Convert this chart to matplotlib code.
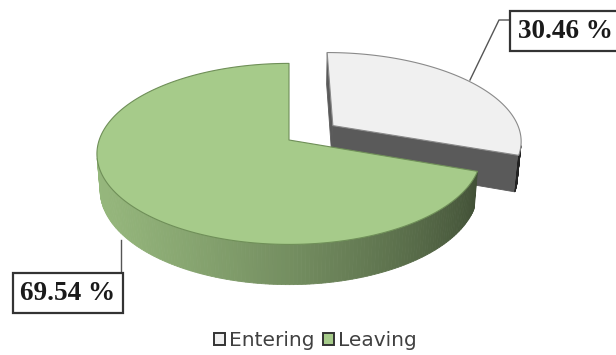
import numpy as np
import matplotlib
matplotlib.use("Agg")
import matplotlib.pyplot as plt
from matplotlib.patches import Polygon, Patch

# ---- data -------------------------------------------------------------
categories = ["Entering", "Leaving"]
shares = [30.46, 69.54]
value_labels = ["30.46 %", "69.54 %"]

# ---- styling ------------------------------------------------------------
top_colors = ["#f0f0f0", "#a6cb8a"]
wall_colors = ["#5a5a5a", "#a6cb8a"]
edge_colors = ["#8a8a8a", "#6f8f58"]
explode = [0.29, 0.0]

# simple perspective camera for the 3-D pie
PHI = np.radians(27.0)     # elevation of the camera
DIST = 5.8                 # camera distance (in pie radii)
SCALE = 1129.0             # pixels per projected unit
SCALE_X = 0.975            # horizontal squeeze
CX, CY = 289.0, 140.0      # pixel position of the pie centre
THICK = 0.21               # pie thickness (in radii)
CAM = np.array([0.0, -DIST * np.cos(PHI), DIST * np.sin(PHI)])


def project(x, y, z):
    c, s = np.cos(PHI), np.sin(PHI)
    vy = np.asarray(y) + DIST * c
    vz = np.asarray(z) - DIST * s
    depth = vy * c - vz * s
    up = vy * s + vz * c
    return CX + SCALE * SCALE_X * np.asarray(x) / depth, CY - SCALE * up / depth


def shade(hex_color, factor):
    rgb = np.array(matplotlib.colors.to_rgb(hex_color))
    return tuple(np.clip(rgb * factor, 0, 1))


fig = plt.figure(figsize=(6.16, 3.55), dpi=100)
ax = fig.add_axes([0, 0, 1, 1])
ax.set_xlim(0, 616)
ax.set_ylim(355, 0)
ax.axis("off")

# slice angles: start at 12 o'clock, run clockwise
bounds = []
start = 90.0
for v in shares:
    end = start - v * 3.6
    bounds.append((start, end))
    start = end

light = np.array([-1.0, -0.3])
light /= np.linalg.norm(light)

# draw the exploded slice first (it sits behind), then the rest
order = sorted(range(len(shares)), key=lambda i: -explode[i])
for i in order:
    a0, a1 = bounds[i]
    mid = np.radians((a0 + a1) / 2)
    ox, oy = explode[i] * np.cos(mid), explode[i] * np.sin(mid)
    th = np.radians(np.linspace(a0, a1, 240))

    faces = []
    # outer curved wall, split into thin strips
    for t0, t1 in zip(th[:-1], th[1:]):
        tm = (t0 + t1) / 2
        n = np.array([np.cos(tm), np.sin(tm), 0.0])
        p = np.array([ox + np.cos(tm), oy + np.sin(tm), -THICK / 2])
        if np.dot(n, CAM - p) <= 0:
            continue
        xs = ox + np.array([np.cos(t0), np.cos(t1), np.cos(t1), np.cos(t0)])
        ys = oy + np.array([np.sin(t0), np.sin(t1), np.sin(t1), np.sin(t0)])
        zs = np.array([0, 0, -THICK, -THICK])
        dot = np.dot(n[:2], light)
        f = 0.62 + 0.28 * dot
        col = shade(wall_colors[i], f)
        faces.append((np.linalg.norm(CAM - p), xs, ys, zs, col))

    # radial cut faces
    for ang, sign in ((th[0], 1.0), (th[-1], -1.0)):
        n = np.array([-np.sin(ang), np.cos(ang), 0.0]) * sign
        rx, ry = np.cos(ang), np.sin(ang)
        p = np.array([ox + rx / 2, oy + ry / 2, -THICK / 2])
        if np.dot(n, CAM - p) <= 0:
            continue
        xs = np.array([ox, ox + rx, ox + rx, ox])
        ys = np.array([oy, oy + ry, oy + ry, oy])
        zs = np.array([0, 0, -THICK, -THICK])
        if i == 0:
            col = shade(wall_colors[i], 1.0)
        else:
            col = shade(wall_colors[i], 0.55)
        faces.append((np.linalg.norm(CAM - p), xs, ys, zs, col))

    faces.sort(key=lambda f: -f[0])
    for _, xs, ys, zs, col in faces:
        px, py = project(xs, ys, zs)
        ax.add_patch(Polygon(np.column_stack([px, py]), closed=True,
                             facecolor=col, edgecolor=col, lw=0.6))

    # top face
    xs = np.concatenate([[ox], ox + np.cos(th)])
    ys = np.concatenate([[oy], oy + np.sin(th)])
    px, py = project(xs, ys, np.zeros_like(xs))
    ax.add_patch(Polygon(np.column_stack([px, py]), closed=True,
                         facecolor=top_colors[i], edgecolor=edge_colors[i],
                         lw=0.8, joinstyle="round"))

# ---- value labels with leader lines ----------------------------------------
label_font = dict(family="Liberation Serif", weight="bold", size=19.5,
                  color="#1a1a1a")
box = dict(boxstyle="square,pad=0.28", facecolor="white",
           edgecolor="#333333", lw=1.6)

ax.plot([470, 499, 510], [80, 20, 20], color="#555555", lw=1.0)
ax.text(565, 31, value_labels[0], ha="center", va="center", bbox=box,
        **label_font)

ax.plot([121, 121], [240, 272], color="#555555", lw=1.0)
ax.text(68, 293, value_labels[1], ha="center", va="center", bbox=box,
        **label_font)

# ---- legend -----------------------------------------------------------------
handles = [Patch(facecolor=top_colors[0], edgecolor="#333333", lw=1.4),
           Patch(facecolor=top_colors[1], edgecolor="#333333", lw=1.4)]
ax.legend(handles, categories, loc="center", ncol=2, frameon=False,
          bbox_to_anchor=(315.5 / 616, 1 - 341 / 355),
          handlelength=0.55, handleheight=0.55, handletextpad=0.18,
          columnspacing=0.45, borderaxespad=0, borderpad=0,
          prop=dict(family="DejaVu Sans", size=14.5), labelcolor="#404040")

fig.savefig("out.png", dpi=100)
